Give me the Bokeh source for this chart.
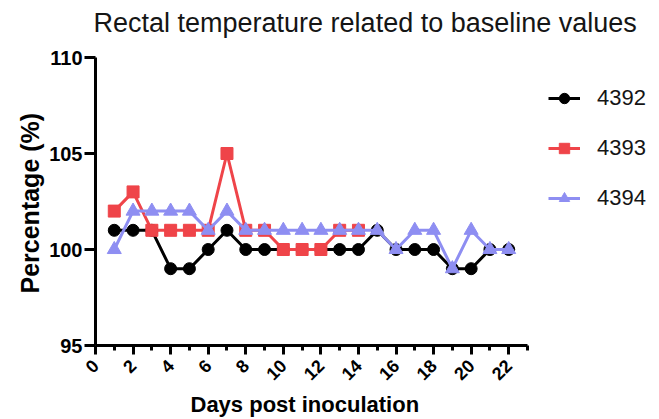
import math
from bokeh.plotting import figure
from bokeh.models import FixedTicker, Legend, LegendItem, Range1d, Title
from bokeh.embed import file_html
from bokeh.resources import INLINE

# ---- data ----
days = list(range(1, 23))
s4392 = [101, 101, 101, 99, 99, 100, 101, 100, 100, 100, 100, 100, 100, 100,
         101, 100, 100, 100, 99, 99, 100, 100]
days_4393 = list(range(1, 15))
s4393 = [102, 103, 101, 101, 101, 101, 105, 101, 101, 100, 100, 100, 101, 101]
s4394 = [100, 102, 102, 102, 102, 101, 102, 101, 101, 101, 101, 101, 101, 101,
         101, 100, 101, 101, 99, 101, 100, 100]
x_ticks = list(range(0, 23, 2))
x_minor = list(range(1, 24, 2))
y_ticks = [95, 100, 105, 110]

FONT = "Liberation Sans"

W, H = 652, 419
LEFT, RIGHT, TOP, BOTTOM = 95, 0, 38, 74
AXIS_PX = 432          # on-screen length of the 0..23 x axis
AXIS_PY = 288          # on-screen length of the 95..110 y axis
frame_w = W - LEFT - RIGHT
frame_h = H - TOP - BOTTOM
x_end = 23 * frame_w / AXIS_PX
y_end = 95 + 15 * frame_h / AXIS_PY

p = figure(width=W, height=H, output_backend="svg", toolbar_location=None,
           x_range=Range1d(0, x_end), y_range=Range1d(95, y_end),
           min_border_left=LEFT, min_border_right=RIGHT, min_border_top=TOP,
           min_border_bottom=BOTTOM)
p.outline_line_color = None
p.grid.grid_line_color = None

p.title.text = "Rectal temperature related to baseline values"
p.title.text_font = FONT
p.title.text_font_size = "27px"
p.title.text_font_style = "normal"
p.title.align = "left"
p.title.offset = -2
p.title.standoff = 2
p.title.text_color = "#151515"

for ax in (p.xaxis[0], p.yaxis[0]):
    ax.axis_line_width = 3
    ax.axis_line_color = "black"
    ax.major_tick_line_width = 3
    ax.minor_tick_line_width = 3
    ax.major_tick_in = 0
    ax.minor_tick_in = 0
    ax.major_label_text_font = FONT
    ax.major_label_text_font_style = "bold"
    ax.major_label_text_color = "black"
    ax.axis_label_text_font = FONT
    ax.axis_label_text_font_style = "bold"
    ax.axis_label_text_color = "black"

p.xaxis.bounds = (0, 23)
p.yaxis.bounds = (95, 110)
p.xaxis.ticker = FixedTicker(ticks=x_ticks, minor_ticks=x_minor)
p.yaxis.ticker = FixedTicker(ticks=y_ticks, minor_ticks=[])
p.xaxis.major_tick_out = 9
p.xaxis.minor_tick_out = 5
p.yaxis.major_tick_out = 11
p.xaxis.major_label_orientation = math.pi / 4
p.xaxis.major_label_text_font_size = "18px"
p.yaxis.major_label_text_font_size = "20px"
p.xaxis.major_label_standoff = 8
p.yaxis.major_label_standoff = 2

ylabel = Title(text="Percentage (%)", align="left", offset=52,
               text_font=FONT, text_font_style="bold", text_font_size="25px",
               text_color="black", standoff=5)
p.add_layout(ylabel, "left")

xlabel = Title(text="Days post inoculation", align="left", offset=95,
               text_font=FONT, text_font_style="bold", text_font_size="22px",
               text_color="black", standoff=2)
p.add_layout(xlabel, "below")

BLACK = "#000000"
RED = "#EF4449"
BLUE = "#8E8EF2"

l1 = p.line(days, s4392, line_color=BLACK, line_width=3)
m1 = p.scatter(days, s4392, marker="circle", size=12, fill_color=BLACK, line_color=BLACK)
l2 = p.line(days_4393, s4393, line_color=RED, line_width=3)
m2 = p.scatter(days_4393, s4393, marker="square", size=12, fill_color=RED, line_color=RED)
l3 = p.line(days, s4394, line_color=BLUE, line_width=3)
m3 = p.scatter(days, s4394, marker="triangle", size=14, fill_color=BLUE, line_color=BLUE)

legend = Legend(items=[
    LegendItem(label="4392", renderers=[l1, m1]),
    LegendItem(label="4393", renderers=[l2, m2]),
    LegendItem(label="4394", renderers=[l3, m3]),
], location=(453, 134))
legend.glyph_width = 32
legend.glyph_height = 26
legend.spacing = 24
legend.label_standoff = 17
legend.padding = 0
legend.margin = 0
legend.border_line_color = None
legend.background_fill_alpha = 0
legend.label_text_font = FONT
legend.label_text_font_size = "22px"
legend.label_text_color = "#151515"
p.add_layout(legend, "center")

open("out.html", "w").write(file_html(p, INLINE))
